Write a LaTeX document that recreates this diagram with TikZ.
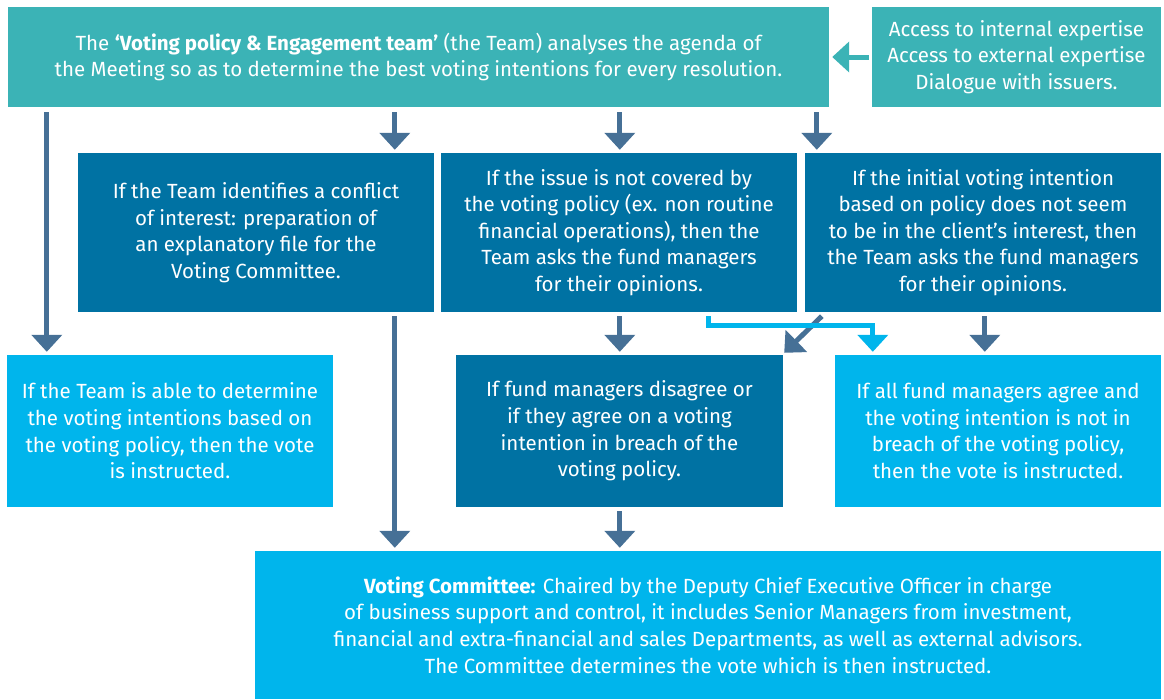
\documentclass[tikz,border=0pt]{standalone}
\usepackage{fontspec}
\setmainfont{Fira Sans}
\usetikzlibrary{arrows.meta,calc}
\definecolor{teal1}{RGB}{59,179,182}
\definecolor{dblue}{RGB}{0,114,163}
\definecolor{lblue}{RGB}{0,181,236}
\definecolor{steel}{RGB}{70,112,150}
\begin{document}
\begin{tikzpicture}[x=1pt,y=-1pt,
  box/.style={rectangle, inner sep=0pt, text=white, align=center,
    font=\fontsize{20.5}{26.6}\selectfont},
  arr/.style={draw=steel, line width=5pt, -{Triangle[width=30pt,length=17pt]}},
  arrL/.style={draw=lblue, line width=5pt, line join=miter, -{Triangle[width=30pt,length=17pt]}},
  arrT/.style={draw=teal1, line width=5pt, -{Triangle[width=30pt,length=17pt]}},
]
\useasboundingbox (0,0) rectangle (1164,699);

\node[box, fill=teal1, minimum width=821pt, minimum height=100pt] (top) at (418.5,57)
  {The \textbf{‘Voting policy \& Engagement team’} (the Team) analyses the agenda of\\
   the Meeting so as to determine the best voting intentions for every resolution.};
\node[box, fill=teal1, minimum width=289pt, minimum height=100pt] (side) at (1016.5,57)
  {Access to internal expertise\\ Access to external expertise\\ Dialogue with issuers.};

\node[box, fill=dblue, minimum width=356pt, minimum height=159pt] (A) at (256,232.5)
  {If the Team identifies a conflict\\ of interest: preparation of\\ an explanatory file for the\\ Voting Committee.};
\node[box, fill=dblue, minimum width=356pt, minimum height=159pt] (B) at (619,232.5)
  {If the issue is not covered by\\ the voting policy (ex. non routine\\ financial operations), then the\\ Team asks the fund managers\\ for their opinions.};
\node[box, fill=dblue, minimum width=356pt, minimum height=159pt] (C) at (983,232.5)
  {If the initial voting intention\\ based on policy does not seem\\ to be in the client’s interest, then\\ the Team asks the fund managers\\ for their opinions.};

\node[box, fill=lblue, minimum width=326pt, minimum height=152pt] (D) at (170,431)
  {If the Team is able to determine\\ the voting intentions based on\\ the voting policy, then the vote\\ is instructed.};
\node[box, fill=dblue, minimum width=327pt, minimum height=152pt] (E) at (619.5,431)
  {If fund managers disagree or\\ if they agree on a voting\\ intention in breach of the\\ voting policy.};
\node[box, fill=lblue, minimum width=326pt, minimum height=152pt] (F) at (998,431)
  {If all fund managers agree and\\ the voting intention is not in\\ breach of the voting policy,\\ then the vote is instructed.};

\node[box, fill=lblue, minimum width=906pt, minimum height=148pt] (G) at (708,625)
  {\textbf{Voting Committee:} Chaired by the Deputy Chief Executive Officer in charge\\
   of business support and control, it includes Senior Managers from investment,\\
   financial and extra-financial and sales Departments, as well as external advisors.\\
   The Committee determines the vote which is then instructed.};

% connectors
\draw[arrT] ($(side.west)+(-3,0)$) -- ($(top.east)+(3,0)$);
\draw[arr] ($(top.south west)+(39,5)$) -- ($(D.north west)+(40,-3)$);
\draw[arr] ($(top.south west)+(387,5)$) -- ($(A.north west)+(317,-3)$);
\draw[arr] ($(top.south west)+(612,5)$) -- ($(B.north west)+(179,-3)$);
\draw[arr] ($(top.south west)+(809,5)$) -- ($(C.north west)+(12,-3)$);
\draw[arr] ($(A.south west)+(317,4)$) -- ($(G.north west)+(140,-3)$);
\draw[arr] ($(B.south west)+(179,4)$) -- ($(E.north west)+(164,-3)$);
\draw[arr] ($(C.south west)+(17,4)$) -- ($(E.north east)+(1,-2)$);
\draw[arrL] ($(B.south west)+(268,4)$) |- ($(F.north west)+(38,-29)$) -- ($(F.north west)+(38,-3)$);
\draw[arr] ($(C.south west)+(180,4)$) -- ($(F.north west)+(150,-3)$);
\draw[arr] ($(E.south west)+(164,4)$) -- ($(G.north west)+(365,-3)$);
\end{tikzpicture}
\end{document}
